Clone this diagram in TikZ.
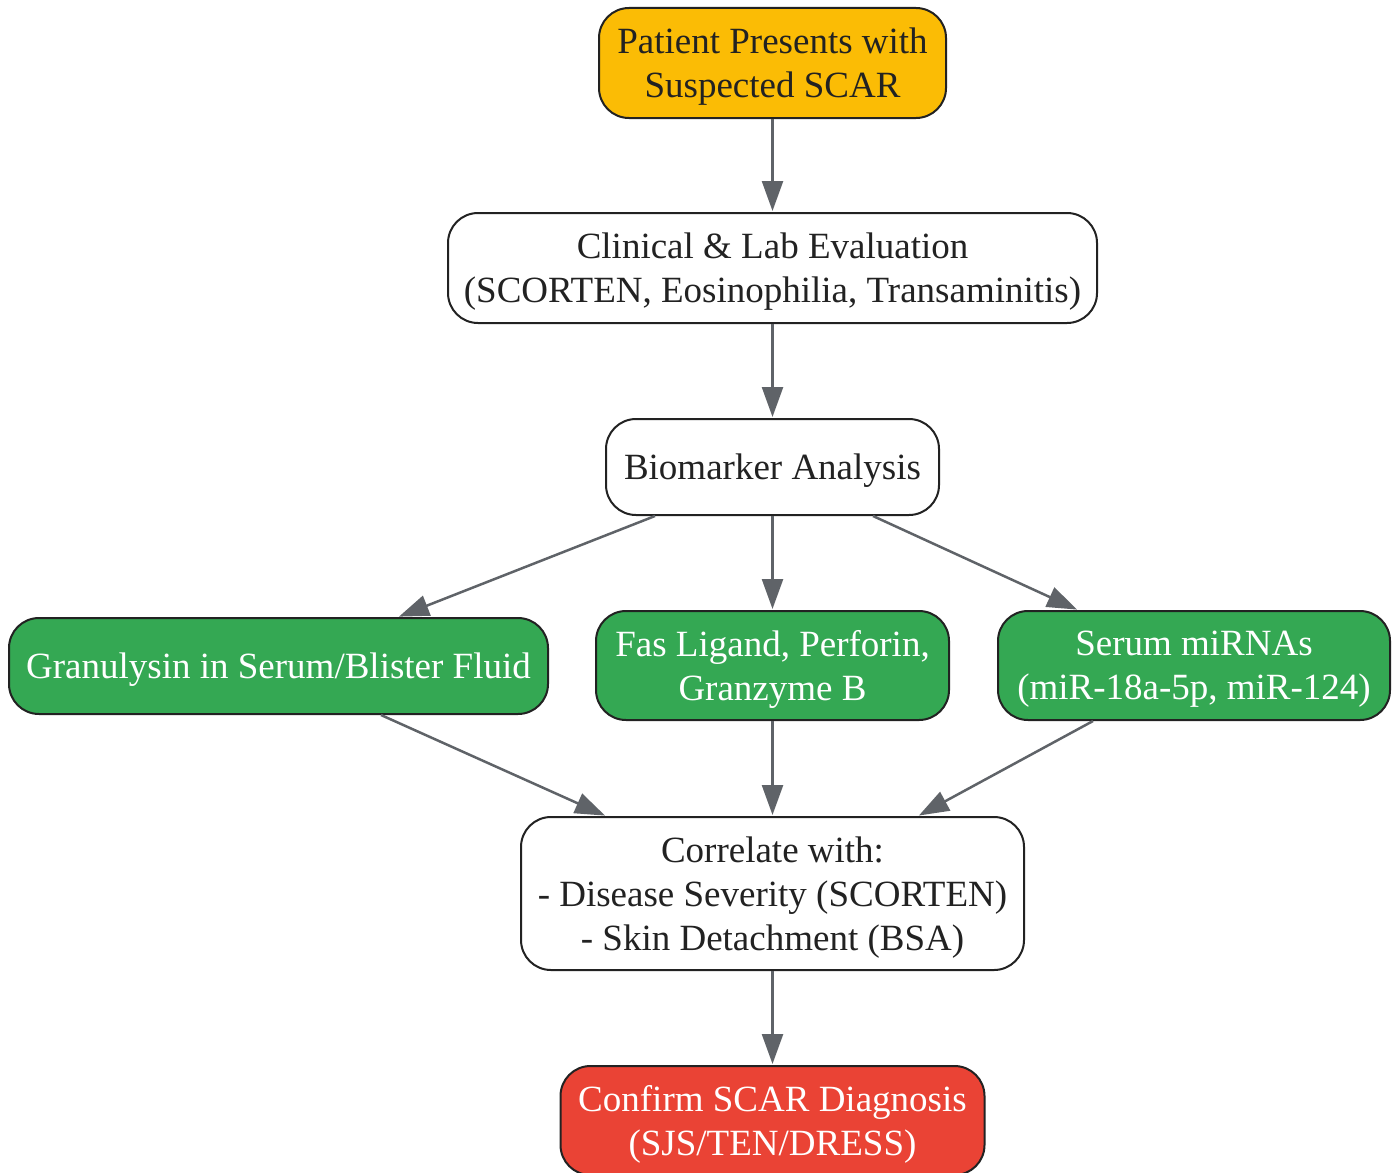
\documentclass[tikz,border=0pt]{standalone}
\usepackage{fontspec}
\setmainfont{Liberation Serif}
\usetikzlibrary{arrows.meta}
\definecolor{scarYellow}{HTML}{FBBC05}
\definecolor{scarGreen}{HTML}{34A853}
\definecolor{scarRed}{HTML}{EA4335}
\definecolor{edgeGray}{HTML}{5F6368}
\definecolor{inkDark}{HTML}{222222}
\tikzset{
  box/.style={draw=inkDark, line width=2pt, rounded corners=30pt, fill=white,
    text=inkDark, align=center, inner sep=0pt, text depth=-8pt,
    font=\fontsize{37}{44}\selectfont},
  startbox/.style={box, fill=scarYellow},
  markerbox/.style={box, fill=scarGreen, text=white},
  endbox/.style={box, fill=scarRed, text=white},
  flow/.style={draw=edgeGray, line width=2.5pt,
    -{Triangle[length=30pt, width=21pt]}, shorten >=1pt}
}
\begin{document}
\begin{tikzpicture}[x=1pt, y=-1pt]
      \useasboundingbox (0,0) rectangle (1396,1172);

      \node[startbox, minimum width=347pt, minimum height=110pt] (P) at (772.5, 63) {Patient Presents with\\Suspected SCAR};
      \node[box, minimum width=649pt, minimum height=110pt] (E) at (772.5, 268) {Clinical \& Lab Evaluation\\(SCORTEN, Eosinophilia, Transaminitis)};
      \node[box, minimum width=333pt, minimum height=96pt] (B) at (772.5, 467) {Biomarker Analysis};
      \node[markerbox, minimum width=539pt, minimum height=96pt] (G) at (278.5, 666) {Granulysin in Serum/Blister Fluid};
      \node[markerbox, minimum width=353pt, minimum height=109pt] (F) at (772.5, 665.5) {Fas Ligand, Perforin,\\Granzyme B};
      \node[markerbox, minimum width=392pt, minimum height=109pt] (M) at (1194, 665.5) {Serum miRNAs\\(miR-18a-5p, miR-124)};
      \node[box, minimum width=503pt, minimum height=153pt] (C) at (772.5, 893.5) {Correlate with:\\- Disease Severity (SCORTEN)\\- Skin Detachment (BSA)};
      \node[endbox, minimum width=424pt, minimum height=109pt] (D) at (772.5, 1120.5) {Confirm SCAR Diagnosis\\(SJS/TEN/DRESS)};

      \draw[flow] (P) -- (E);
      \draw[flow] (E) -- (B);
      \draw[flow] ([xshift=-117.5pt]B.south) -- ([xshift=119.5pt]G.north);
      \draw[flow] (B) -- (F);
      \draw[flow] ([xshift=100.5pt]B.south) -- ([xshift=-116pt]M.north);
      \draw[flow] ([xshift=102.5pt]G.south) -- ([xshift=-166.5pt]C.north);
      \draw[flow] (F) -- (C);
      \draw[flow] ([xshift=-101pt]M.south) -- ([xshift=145.5pt]C.north);
      \draw[flow] (C) -- (D);
    \end{tikzpicture}
\end{document}
